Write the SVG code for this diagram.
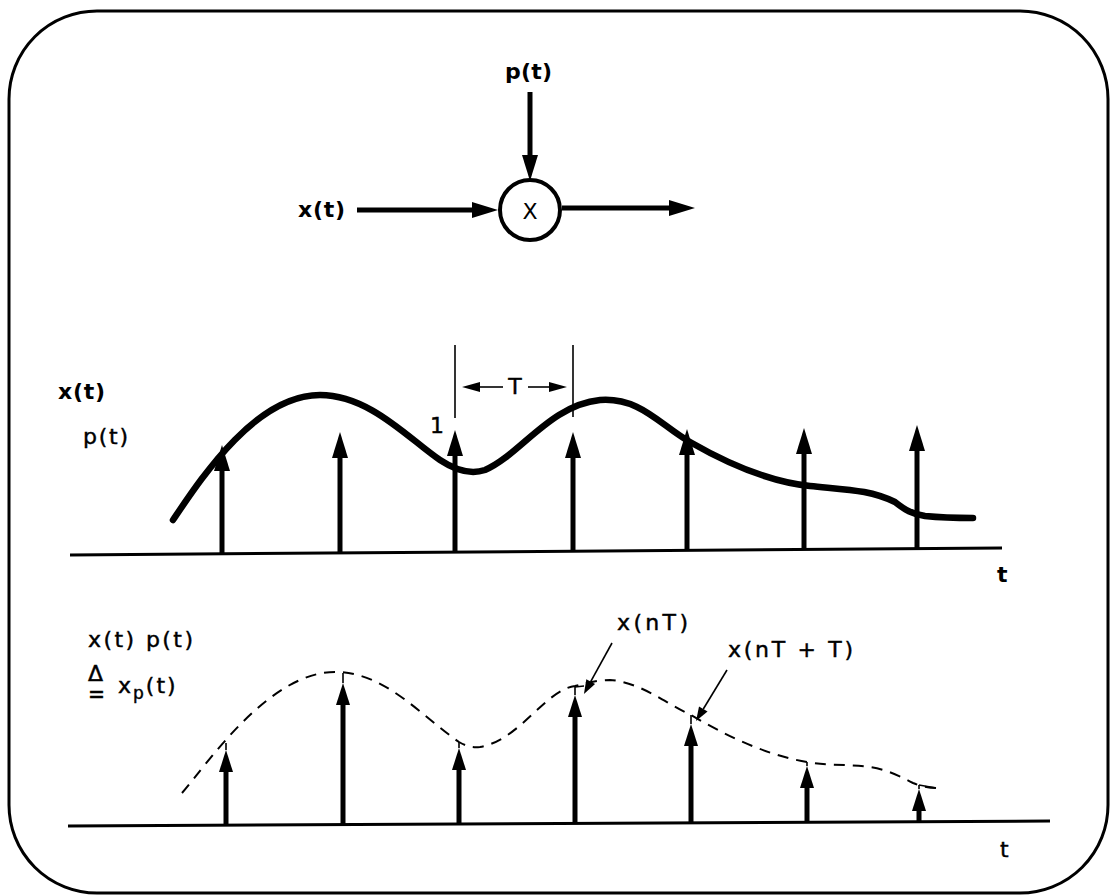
<svg xmlns="http://www.w3.org/2000/svg" width="1119" height="896" viewBox="0 0 1119 896">
<style>
text{font-family:"DejaVu Sans","Liberation Sans",sans-serif;font-size:22px;fill:#000}
.n{stroke:#000;stroke-width:0.45}
.b{font-weight:bold}
.ln{stroke:#000;fill:none}
.stemM{stroke:#000;stroke-width:5;marker-end:url(#ahM)}
.stemB{stroke:#000;stroke-width:5;marker-end:url(#ahB)}
.thin{stroke:#000;stroke-width:1.6;fill:none}
</style>
<defs>
<marker id="ahM" markerUnits="userSpaceOnUse" viewBox="0 -8 26 16" refX="0" refY="0" markerWidth="26" markerHeight="16" orient="auto" overflow="visible"><path d="M0,-8 L26,0 L0,8 z" fill="#000"/></marker>
<marker id="ahB" markerUnits="userSpaceOnUse" viewBox="0 -7 22 14" refX="0" refY="0" markerWidth="22" markerHeight="14" orient="auto" overflow="visible"><path d="M0,-7 L22,0 L0,7 z" fill="#000"/></marker>
<marker id="ahT" markerUnits="userSpaceOnUse" viewBox="0 -5 18 10" refX="0" refY="0" markerWidth="18" markerHeight="10" orient="auto" overflow="visible"><path d="M0,-5 L18,0 L0,5 z" fill="#000"/></marker>
<marker id="ahS" markerUnits="userSpaceOnUse" viewBox="0 -5 14 10" refX="0" refY="0" markerWidth="14" markerHeight="10" orient="auto" overflow="visible"><path d="M0,-5 L14,0 L0,5 z" fill="#000"/></marker>
</defs>
<rect id="frame" x="9" y="11" width="1099" height="882" rx="88" ry="88" fill="#fff" stroke="#000" stroke-width="3"/>

<!-- block diagram -->
<g id="multiplier">
<circle cx="530" cy="210" r="30" fill="#fff" stroke="#000" stroke-width="4"/>
<text x="530" y="219" text-anchor="middle" font-size="23">X</text>
</g>
<g id="label-pt-top"><text class="b" x="505" y="79" textLength="47" lengthAdjust="spacing">p(t)</text></g>
<g id="label-xt-in"><text class="b" x="298" y="217" textLength="47" lengthAdjust="spacing">x(t)</text></g>
<g id="connectors">
<line class="ln" x1="530" y1="92" x2="530" y2="155" stroke-width="5" marker-end="url(#ahM)"/>
<line class="ln" x1="357" y1="210" x2="472" y2="210" stroke-width="5" marker-end="url(#ahM)"/>
<line class="ln" x1="562" y1="208" x2="669" y2="208" stroke-width="5" marker-end="url(#ahM)"/>
</g>

<!-- middle plot -->
<g id="plot-sampling">
<text class="b" x="58" y="399" textLength="47" lengthAdjust="spacing">x(t)</text>
<text class="n" x="83" y="444" textLength="45" lengthAdjust="spacing">p(t)</text>
<line class="ln" x1="70" y1="555" x2="1002" y2="548" stroke-width="3"/>
<text class="b" x="997" y="582">t</text>
<path class="ln" stroke-width="6.5" stroke-linecap="round" d="M173,520 C200,480 255,395 320,395 C370,395 410,440 440,460 C455,470 470,475 485,470 C520,455 550,405 600,400 C640,397 660,425 690,442 C730,465 770,482 810,486 C850,490 870,490 895,502 C905,510 912,514 925,516 C945,518 960,518 973,518"/>
<line class="stemM" x1="222" y1="554" x2="222" y2="471"/>
<line class="stemM" x1="340" y1="553" x2="340" y2="458"/>
<line class="stemM" x1="455" y1="552" x2="455" y2="456"/>
<line class="stemM" x1="573" y1="551" x2="573" y2="458"/>
<line class="stemM" x1="687" y1="550.5" x2="687" y2="455"/>
<line class="stemM" x1="804" y1="549.5" x2="804" y2="454"/>
<line class="stemM" x1="917" y1="548.6" x2="917" y2="451"/>
<text class="n" x="430" y="433">1</text>
<line class="thin" x1="455" y1="345" x2="455" y2="418"/>
<line class="thin" x1="573" y1="345" x2="573" y2="417"/>
<line class="thin" x1="503" y1="387" x2="480" y2="387" marker-end="url(#ahT)"/>
<line class="thin" x1="528" y1="387" x2="549" y2="387" marker-end="url(#ahT)"/>
<text class="n" x="515" y="394" text-anchor="middle" font-size="20">T</text>
</g>

<!-- bottom plot -->
<g id="plot-sampled">
<text class="n" x="88" y="647" textLength="105" lengthAdjust="spacing">x(t) p(t)</text>
<text class="n" x="88" y="681" font-size="19">Δ<tspan x="88" y="702" font-size="24" textLength="17" lengthAdjust="spacingAndGlyphs">=</tspan></text>
<text class="n" x="118" y="693" letter-spacing="2">x<tspan font-size="17" dy="6">p</tspan><tspan dy="-6">(t)</tspan></text>
<line class="ln" x1="68" y1="826" x2="1050" y2="821" stroke-width="3"/>
<text class="n" x="1000" y="857">t</text>
<path class="ln" stroke-width="2" stroke-dasharray="11,8" d="M182,793 C210,760 270,672 335,672 C385,672 420,715 459,742 C466,746 472,748 480,747 C520,740 545,690 575,686 C590,682 600,680 610,680 C640,682 665,703 691,715 C725,735 765,755 807,762 C830,766 850,764 870,767 C885,769 900,776 913,783 C920,786 928,788 936,788"/>
<line class="stemB" x1="226" y1="825" x2="226" y2="772"/>
<line class="thin" x1="226" y1="750" x2="226" y2="743"/>
<line class="stemB" x1="343" y1="824.6" x2="343" y2="705"/>
<line class="thin" x1="343" y1="683" x2="343" y2="673"/>
<line class="stemB" x1="459" y1="824" x2="459" y2="770"/>
<line class="thin" x1="459" y1="748" x2="459" y2="742"/>
<line class="stemB" x1="575" y1="823.4" x2="575" y2="717"/>
<line class="thin" x1="575" y1="695" x2="575" y2="687"/>
<line class="thin" x1="575" y1="687" x2="584" y2="686"/>
<line class="stemB" x1="691" y1="822.8" x2="691" y2="746"/>
<line class="thin" x1="691" y1="724" x2="691" y2="715"/>
<line class="stemB" x1="807" y1="822.2" x2="807" y2="788"/>
<line class="thin" x1="807" y1="766" x2="807" y2="762"/>
<line class="stemB" x1="919" y1="821.7" x2="919" y2="811"/>
<line class="thin" x1="919" y1="789" x2="919" y2="785"/>
<line class="thin" x1="919" y1="785" x2="936" y2="788"/>
<text class="n" x="617" y="630" textLength="71" lengthAdjust="spacing">x(nT)</text>
<text class="n" x="728" y="657" textLength="125" lengthAdjust="spacing">x(nT + T)</text>
<line class="thin" x1="612" y1="643" x2="590.7" y2="681.7" marker-end="url(#ahS)"/>
<line class="thin" x1="727" y1="670" x2="703.3" y2="709" marker-end="url(#ahS)"/>
</g>
</svg>
